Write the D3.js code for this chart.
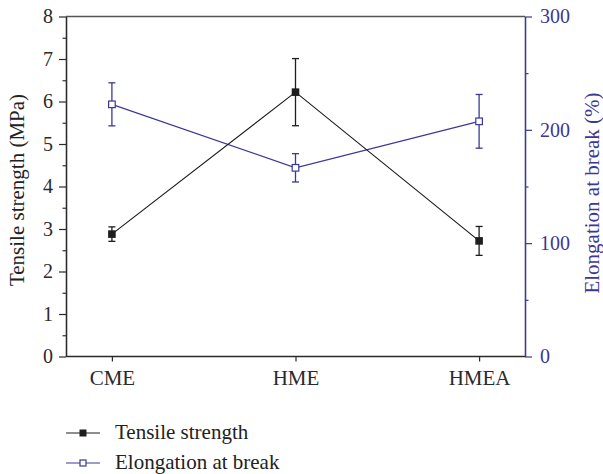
<!DOCTYPE html>
<html>
<head>
<meta charset="utf-8">
<script src="https://cdn.jsdelivr.net/npm/d3@7"></script>
<style>
  html, body { margin: 0; padding: 0; background: #fff; }
  svg { display: block; }
  svg text { font-family: "Liberation Serif", "Times New Roman", Times, "DejaVu Serif", serif; }
</style>
</head>
<body>
<svg id="chart" width="603" height="474"></svg>
<script>
// Samples
const categories = ["CME", "HME", "HMEA"];
// Tensile strength (MPa), mean and standard deviation
const tensile = [2.88, 6.22, 2.72];
const tensileErr = [0.17, 0.79, 0.34];
// Elongation at break (%), mean and standard deviation
const elongation = [222.5, 166.5, 207.5];
const elongationErr = [19, 12.5, 23.7];
// Axis ticks
const leftTicks = [0, 1, 2, 3, 4, 5, 6, 7, 8];
const leftMinor = [0.5, 1.5, 2.5, 3.5, 4.5, 5.5, 6.5, 7.5];
const rightTicks = [0, 100, 200, 300];
const rightMinor = [50, 150, 250];
const seriesNames = ["Tensile strength", "Elongation at break"];

const black = "#1e1e1e";
const blue = "#3b3896";
const tickSize = 20;
const titleSize = 21;

const svg = d3.select("#chart");
const m = { left: 66, right: 525, top: 16.5, bottom: 356.5 };

const x = d3.scalePoint().domain(categories).range([m.left, m.right]).padding(0.25);
const yL = d3.scaleLinear().domain([0, 8]).range([m.bottom, m.top]);
const yR = d3.scaleLinear().domain([0, 300]).range([m.bottom, m.top]);

// frame top line
svg.append("line")
  .attr("x1", m.left).attr("x2", m.right)
  .attr("y1", m.top).attr("y2", m.top)
  .attr("stroke", "#555").attr("stroke-width", 1.3);

function styleAxis(g, color, size) {
  g.attr("font-family", null);
  g.select(".domain").attr("stroke", color).attr("stroke-width", 1.3);
  g.selectAll(".tick line").attr("stroke", color).attr("stroke-width", 1.2);
  g.selectAll(".tick text")
    .attr("fill", color)
    .style("font-size", size + "px");
}

// left axis: minor then major
svg.append("g").attr("transform", `translate(${m.left},0)`)
  .call(d3.axisLeft(yL).tickValues(leftMinor).tickSize(3.5).tickFormat("").tickSizeOuter(0))
  .call(g => styleAxis(g, "#333", tickSize));
svg.append("g").attr("transform", `translate(${m.left},0)`)
  .call(d3.axisLeft(yL).tickValues(leftTicks).tickSize(7).tickPadding(6).tickFormat(d3.format("d")).tickSizeOuter(0))
  .call(g => styleAxis(g, "#2a2a2a", tickSize));

// right axis
svg.append("g").attr("transform", `translate(${m.right},0)`)
  .call(d3.axisRight(yR).tickValues(rightMinor).tickSize(3.5).tickFormat("").tickSizeOuter(0))
  .call(g => styleAxis(g, blue, tickSize));
svg.append("g").attr("transform", `translate(${m.right},0)`)
  .call(d3.axisRight(yR).tickValues(rightTicks).tickSize(7).tickPadding(8).tickFormat(d3.format("d")).tickSizeOuter(0))
  .call(g => styleAxis(g, blue, tickSize));

// bottom axis
const xAxis = svg.append("g").attr("transform", `translate(0,${m.bottom})`)
  .call(d3.axisBottom(x).tickSize(5).tickPadding(9).tickSizeOuter(0))
  .call(g => styleAxis(g, "#2a2a2a", tickSize + 1));
xAxis.select(".domain").attr("d", `M${m.left},0H${m.right}`);

// axis titles
svg.append("text")
  .attr("transform", `translate(24,190) rotate(-90)`)
  .attr("text-anchor", "middle")
  .attr("fill", "#222")
  .style("font-size", titleSize + "px")
  .text("Tensile strength (MPa)");
svg.append("text")
  .attr("transform", `translate(599,193) rotate(-90)`)
  .attr("text-anchor", "middle")
  .attr("fill", blue)
  .style("font-size", titleSize + "px")
  .text("Elongation at break (%)");

// series: connecting line, error bars, markers
function drawSeries(vals, errs, scale, color, filled) {
  const g = svg.append("g");
  const line = d3.line().x((d, i) => x(categories[i])).y(d => scale(d));
  g.append("path").datum(vals).attr("d", line)
    .attr("fill", "none").attr("stroke", color).attr("stroke-width", 1.2);
  const cap = 3.5;
  vals.forEach((v, i) => {
    const cx = x(categories[i]);
    const top = scale(v + errs[i]), bot = scale(v - errs[i]);
    g.append("line").attr("x1", cx).attr("x2", cx).attr("y1", top).attr("y2", bot)
      .attr("stroke", color).attr("stroke-width", 1.3);
    [top, bot].forEach(yy => g.append("line")
      .attr("x1", cx - cap).attr("x2", cx + cap).attr("y1", yy).attr("y2", yy)
      .attr("stroke", color).attr("stroke-width", 1.3));
  });
  vals.forEach((v, i) => {
    const cx = x(categories[i]);
    if (filled) {
      g.append("rect").attr("x", cx - 3.8).attr("y", scale(v) - 3.8)
        .attr("width", 7.6).attr("height", 7.6).attr("fill", color);
    } else {
      g.append("rect").attr("x", cx - 3.3).attr("y", scale(v) - 3.3)
        .attr("width", 6.6).attr("height", 6.6).attr("fill", "#fff")
        .attr("stroke", color).attr("stroke-width", 1.2);
    }
  });
}
drawSeries(elongation, elongationErr, yR, blue, false);
drawSeries(tensile, tensileErr, yL, black, true);

// legend
const legend = svg.append("g");
[[seriesNames[0], black, true, 433], [seriesNames[1], blue, false, 463]].forEach(([name, color, filled, yy]) => {
  legend.append("line").attr("x1", 66).attr("x2", 100).attr("y1", yy).attr("y2", yy)
    .attr("stroke", color).attr("stroke-width", 1.2);
  if (filled) {
    legend.append("rect").attr("x", 79.5).attr("y", yy - 3.5).attr("width", 7).attr("height", 7).attr("fill", color);
  } else {
    legend.append("rect").attr("x", 80).attr("y", yy - 3).attr("width", 6).attr("height", 6)
      .attr("fill", "#fff").attr("stroke", color).attr("stroke-width", 1.2);
  }
  legend.append("text").attr("x", 115).attr("y", yy + 6)
    .attr("fill", "#222").style("font-size", titleSize + "px").text(name);
});
</script>
</body>
</html>
